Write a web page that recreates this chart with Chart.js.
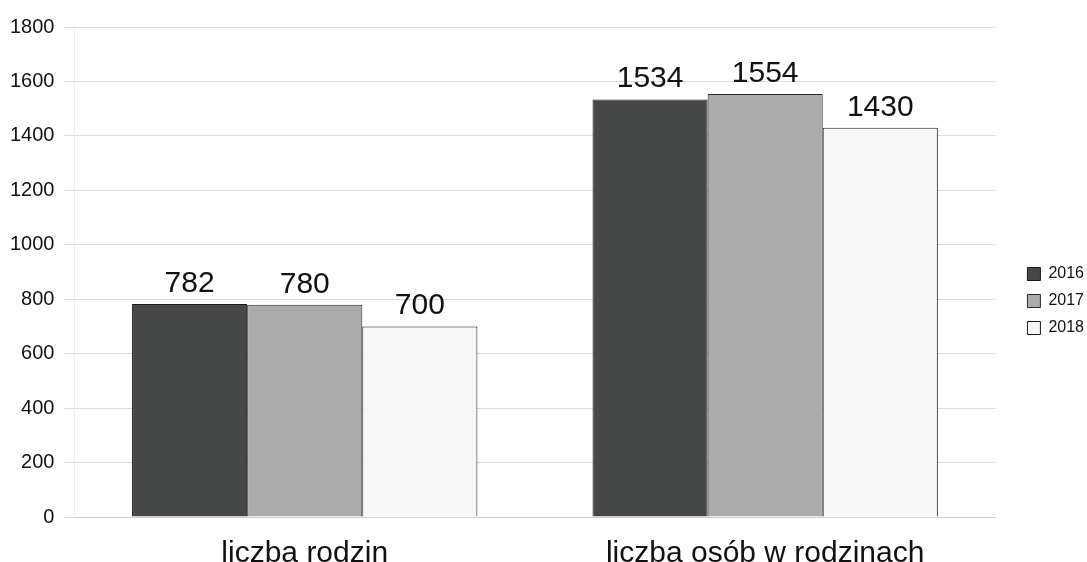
<!DOCTYPE html>
<html>
<head>
<meta charset="utf-8">
<script src="https://cdn.jsdelivr.net/npm/chart.js@4"></script>
<style>
html,body{margin:0;padding:0;background:#fff;}
#wrap{width:1087px;height:562px;overflow:hidden;}
</style>
</head>
<body>
<div id="wrap"><canvas id="c" width="1087" height="562"></canvas></div>
<script>
const categories = ["liczba rodzin", "liczba osób w rodzinach"];
const years = ["2016", "2017", "2018"];
const values2016 = [782, 1534];
const values2017 = [780, 1554];
const values2018 = [700, 1430];
const yTicks = [0, 200, 400, 600, 800, 1000, 1200, 1400, 1600, 1800];

const FONT = '"Liberation Sans", Arial, sans-serif';

const labelPlugin = {
  id: 'valueLabels',
  afterDatasetsDraw(chart) {
    const ctx = chart.ctx;
    ctx.save();
    ctx.font = '30px ' + FONT;
    ctx.fillStyle = '#111';
    ctx.textAlign = 'center';
    ctx.textBaseline = 'alphabetic';
    chart.data.datasets.forEach((ds, i) => {
      chart.getDatasetMeta(i).data.forEach((bar, j) => {
        ctx.fillText(String(ds.data[j]), bar.x, bar.y - 12);
      });
    });
    ctx.restore();
  }
};

const legendShift = {
  id: 'legendShift',
  afterLayout(chart) {
    const lg = chart.legend;
    if (!lg) return;
    const dx = 21, dy = -4;
    lg.left += dx; lg.right += dx;
    lg.top += dy; lg.bottom += dy;
  }
};

new Chart(document.getElementById('c'), {
  type: 'bar',
  data: {
    labels: categories,
    datasets: [
      {label: years[0], data: values2016, backgroundColor: '#464747', borderColor: '#1a1a1a', borderWidth: 1},
      {label: years[1], data: values2017, backgroundColor: '#ababab', borderColor: '#2a2a2a', borderWidth: 1},
      {label: years[2], data: values2018, backgroundColor: '#f6f6f6', borderColor: '#1a1a1a', borderWidth: 1}
    ]
  },
  options: {
    responsive: false,
    animation: false,
    devicePixelRatio: 1,
    layout: {padding: {top: 27, left: 0, right: 14, bottom: -21}},
    datasets: {bar: {categoryPercentage: 0.75, barPercentage: 1.0}},
    plugins: {
      legend: {
        position: 'right',
        labels: {
          boxWidth: 13, boxHeight: 13, padding: 11,
          color: '#111',
          font: {family: FONT, size: 16}
        }
      },
      tooltip: {enabled: false}
    },
    scales: {
      x: {
        grid: {display: false},
        border: {color: '#cfcfcf', dash: [2, 1]},
        ticks: {color: '#111', font: {family: FONT, size: 30, lineHeight: 0.6}, padding: 20}
      },
      y: {
        min: 0, max: 1800,
        afterBuildTicks(axis) { axis.ticks = yTicks.map(v => ({value: v})); },
        grid: {color: '#dcdcdc', tickLength: 10},
        border: {display: true, color: '#ececec'},
        ticks: {
          color: '#111',
          font: {family: FONT, size: 20},
          padding: 10,
          callback: (v) => String(v)
        }
      }
    }
  },
  plugins: [labelPlugin, legendShift]
});
</script>
</body>
</html>
